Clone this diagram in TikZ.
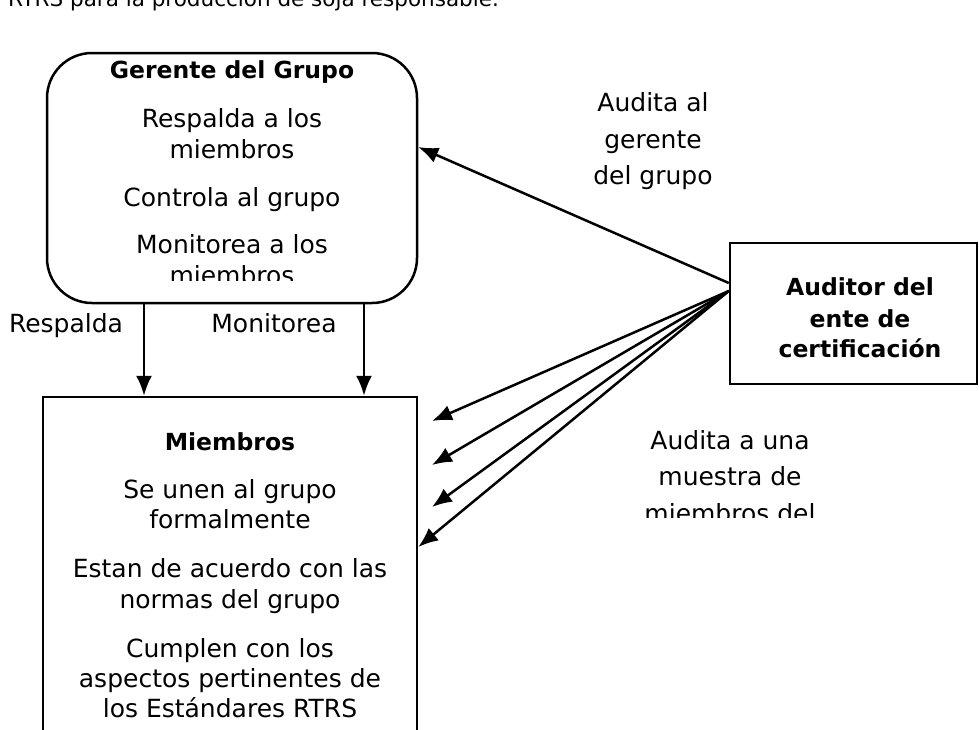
\documentclass[tikz,border=0pt]{standalone}
\usepackage{fontspec}
\setmainfont{DejaVu Sans}
\usetikzlibrary{arrows.meta}

\begin{document}
\begin{tikzpicture}[x=1pt,y=-1pt,
		box/.style={draw,line width=2.5pt,inner sep=0pt},
		txt/.style={anchor=base,inner sep=0pt,font=\fontsize{25}{30}\selectfont},
		head/.style={anchor=base,inner sep=0pt,font=\fontsize{23.5}{28}\selectfont\bfseries},
		link/.style={line width=2.5pt,-{Latex[length=20pt,width=16pt]}}]
		\useasboundingbox (0,0) rectangle (979,729);
		\clip (0,0) rectangle (979,729);
		% caption line cut off by the page top
		\node[anchor=base west,inner sep=0pt,font=\fontsize{21.5}{26}\selectfont] (cap) at (8,6) {RTRS para la producción de soja responsable.};
		% boxes
		\node[box,rounded corners=45pt,minimum width=370pt,minimum height=250pt] (gerente) at (232,178) {};
		\node[box,minimum width=374pt,minimum height=380pt] (miembros) at (230,587) {};
		\node[box,minimum width=247pt,minimum height=141pt] (auditor) at (853.5,313.5) {};
		% gerente
		\node[head] (gtit) at (232,78) {Gerente del Grupo};
		\begin{scope}
			\clip (0,0) rectangle (979,280);
			\foreach \y/\t [count=\i] in {127/Respalda a los,158/miembros,206/Controla al grupo,253/Monitorea a los,284/miembros}
				\node[txt] (g\i) at (232,\y) {\t};
		\end{scope}
		% miembros
		\node[head] (mtit) at (230,450) {Miembros};
		\foreach \y/\t [count=\i] in {498/Se unen al grupo,528/formalmente,577/Estan de acuerdo con las,608/normas del grupo,657/Cumplen con los,687/aspectos pertinentes de,717/los Estándares RTRS}
			\node[txt] (m\i) at (230,\y) {\t};
		% auditor
		\foreach \y/\t [count=\i] in {295/Auditor del,327/ente de,357/certificación}
			\node[head] (a\i) at (860,\y) {\t};
		% labels
		\node[txt] (lres) at (66,332) {Respalda};
		\node[txt] (lmon) at (274,332) {Monitorea};
		\foreach \y/\t [count=\i] in {111/Audita al,148/gerente,184/del grupo}
			\node[txt] (lg\i) at (653,\y) {\t};
		\begin{scope}
			\clip (0,0) rectangle (979,517);
			\foreach \y/\t [count=\i] in {449/Audita a una,485/muestra de,522/miembros del}
				\node[txt] (lm\i) at (730,\y) {\t};
		\end{scope}
		% connectors
		\coordinate (r) at (144,0);
		\coordinate (mo) at (364,0);
		\coordinate (t1) at (432,421);
		\coordinate (t2) at (432,465);
		\coordinate (t3) at (432,507);
		\draw[link] (gerente.south -| r) -- (miembros.north -| r);
		\draw[link] (gerente.south -| mo) -- (miembros.north -| mo);
		\draw[link] (auditor.west |- 0,283) -- (gerente.east |- 0,147);
		\foreach \t in {t1,t2,t3}
			\draw[link] (auditor.west |- 0,291) -- (\t);
		\draw[link] (auditor.west |- 0,291) -- (miembros.east |- 0,547);
\end{tikzpicture}
\end{document}
